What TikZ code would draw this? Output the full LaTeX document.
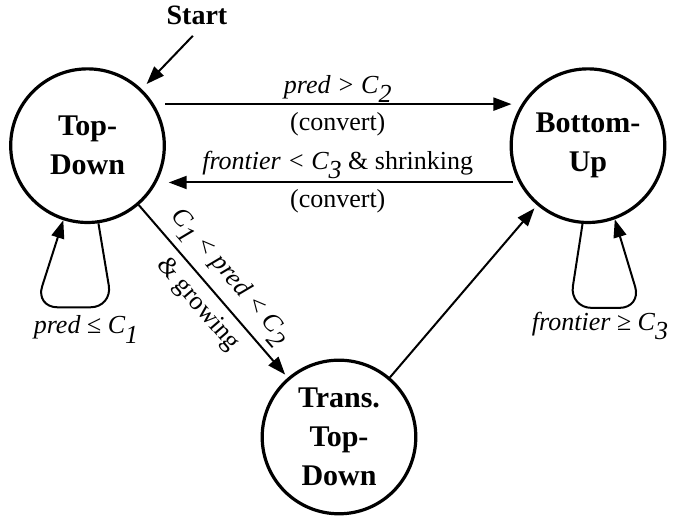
\documentclass[tikz,border=0pt]{standalone}
\usepackage{fontspec}
\setmainfont{Liberation Serif}
\usetikzlibrary{arrows.meta,positioning}
\newcommand{\csub}[1]{\raisebox{-0.35em}[0pt][0pt]{#1}}

\begin{document}
\begin{tikzpicture}[
  state/.style={draw, circle, line width=1.6pt, minimum size=2.7cm, inner sep=0pt,
                align=center, font=\fontsize{15}{19.5}\selectfont\bfseries},
  arr/.style={-{Triangle[length=9pt,width=6.5pt]}, line width=1pt},
  lbl/.style={font=\fontsize{13}{15}\selectfont, inner sep=2pt},
  selfloop/.style={arr, rounded corners=11pt}
]
\useasboundingbox (0,0) rectangle (11.881,-9.157);

% ── States ──
\node[state] at (1.538,-2.56) (td) {Top-\\Down};
\node[state] at (10.334,-2.56) (bu) {Bottom-\\Up};
\node[state] at (5.958,-7.68) (ttd) {Trans.\\Top-\\Down};

% ── Start ──
\node[font=\fontsize{14}{16}\selectfont\bfseries] at (3.462,-0.264) (start) {Start};
\draw[arr, shorten <=3pt, shorten >=3.5pt] (start.south) -- (td);

% ── Transitions ──
\draw[arr, shorten <=5.5pt, shorten >=5pt] (td.32) -- (bu.148)
  node[lbl, midway, above] {\textit{pred > C\csub{2}}}
  node[lbl, midway, below=1.5pt] {(convert)};
\draw[arr, shorten <=3pt, shorten >=6pt] (bu.-152) -- (td.-28)
  node[lbl, midway, above=1pt] {\textit{frontier < C\csub{3}} \& shrinking}
  node[lbl, midway, below=1pt] {(convert)};
\draw[arr, shorten >=2pt] (td) -- (ttd)
  node[lbl, midway, sloped, above=3pt] {\textit{C\csub{1} < pred < C\csub{2}}}
  node[lbl, midway, sloped, below=2pt] {\& growing};
\draw[arr, shorten >=2pt] (ttd) -- (bu);

% ── Self loops ──
\draw[selfloop] (td.-82) -- ++(0.246,-1.476) -- ++(-1.353,0) -- (td.-108);
\node[lbl] at (1.511,-5.76) (tdlbl) {\textit{pred ≤ C\csub{1}}};
\draw[selfloop] (bu.-94) -- ++(-0.228,-1.476) -- ++(1.265,0) -- (bu.-70);
\node[lbl] at (10.545,-5.70) (bulbl) {\textit{frontier ≥ C\csub{3}}};

\end{tikzpicture}
\end{document}
